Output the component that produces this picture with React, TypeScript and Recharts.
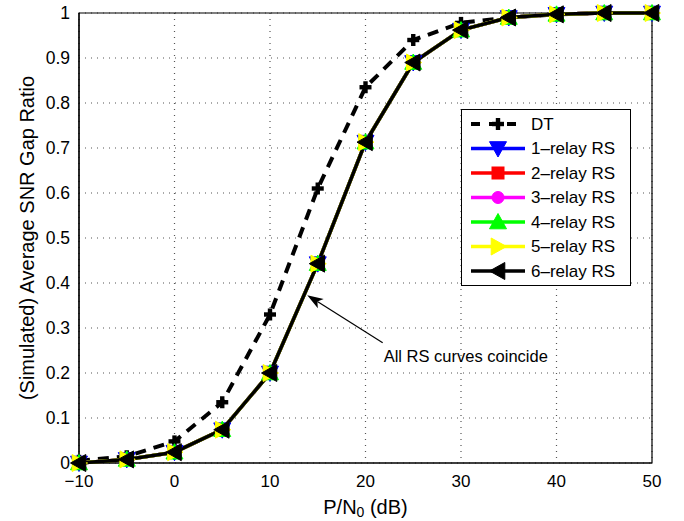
import React from 'react';
import { LineChart, Line, XAxis, YAxis, CartesianGrid, ReferenceLine, ReferenceArea } from 'recharts';

const snrDb = [-10, -5, 0, 5, 10, 15, 20, 25, 30, 35, 40, 45, 50];
const dtRatio = [0.005, 0.015, 0.048, 0.135, 0.33, 0.61, 0.835, 0.94, 0.978, 0.99, 0.997, 1, 1];
const rsRatio = [0.0, 0.008, 0.024, 0.074, 0.2, 0.443, 0.713, 0.89, 0.962, 0.99, 0.997, 1, 1];
const xTicks = [-10, 0, 10, 20, 30, 40, 50];
const yTicks = [0, 0.1, 0.2, 0.3, 0.4, 0.5, 0.6, 0.7, 0.8, 0.9, 1];
const dtName = 'DT';
const rsNames = ['1–relay RS', '2–relay RS', '3–relay RS', '4–relay RS', '5–relay RS', '6–relay RS'];
const rsColors = ['#0000ff', '#ff0000', '#ff00ff', '#00ff00', '#ffff00', '#000000'];
const rsMarkers = ['down', 'square', 'circle', 'up', 'right', 'left'];
const annotationText = 'All RS curves coincide';
const arrowTail = { x: 21.8, y: 0.267 };
const arrowHead = { x: 13.9, y: 0.373 };

const data = snrDb.map((x, i) => ({ x, dt: dtRatio[i], rs: rsRatio[i] }));

const FONT = '"Liberation Sans", Arial, Helvetica, sans-serif';

function drawMarker(kind: string, cx: number, cy: number, color: string, key?: string) {
  const s = 8.5;
  switch (kind) {
    case 'down':
      return <polygon key={key} points={`${cx - s},${cy - s * 0.8} ${cx + s},${cy - s * 0.8} ${cx},${cy + s}`} fill={color} stroke={color} strokeWidth={1} />;
    case 'up':
      return <polygon key={key} points={`${cx - s},${cy + s * 0.8} ${cx + s},${cy + s * 0.8} ${cx},${cy - s}`} fill={color} stroke={color} strokeWidth={1} />;
    case 'right':
      return <polygon key={key} points={`${cx - s * 0.8},${cy - s} ${cx - s * 0.8},${cy + s} ${cx + s},${cy}`} fill={color} stroke={color} strokeWidth={1} />;
    case 'left':
      return <polygon key={key} points={`${cx + s * 0.8},${cy - s} ${cx + s * 0.8},${cy + s} ${cx - s},${cy}`} fill={color} stroke={color} strokeWidth={1} />;
    case 'square':
      return <rect key={key} x={cx - 6} y={cy - 6} width={12} height={12} fill={color} stroke={color} strokeWidth={1} />;
    case 'circle':
      return <circle key={key} cx={cx} cy={cy} r={6} fill={color} stroke={color} strokeWidth={1} />;
    case 'plus':
    default:
      return (
        <g key={key}>
          <rect x={cx - 6} y={cy - 2.2} width={12} height={4.4} fill={color} />
          <rect x={cx - 2.2} y={cy - 6} width={4.4} height={12} fill={color} />
        </g>
      );
  }
}

const ArrowShape = (props: any) => {
  const { x1, y1, x2, y2 } = props;
  if ([x1, y1, x2, y2].some((v) => typeof v !== 'number' || isNaN(v))) return <g />;
  const dx = x2 - x1;
  const dy = y2 - y1;
  const len = Math.sqrt(dx * dx + dy * dy);
  const ux = dx / len;
  const uy = dy / len;
  const hl = 16;
  const hw = 5.5;
  const bx = x2 - ux * hl;
  const by = y2 - uy * hl;
  const px = -uy;
  const py = ux;
  return (
    <g>
      <line x1={x1} y1={y1} x2={bx + ux * 4} y2={by + uy * 4} stroke="#000" strokeWidth={1.2} />
      <polygon
        points={`${x2},${y2} ${bx + px * hw},${by + py * hw} ${bx + ux * 4},${by + uy * 4} ${bx - px * hw},${by - py * hw}`}
        fill="#000"
      />
      <text x={x1 + 1} y={y1 + 19} fontFamily={FONT} fontSize={16.5} fill="#000">
        {annotationText}
      </text>
    </g>
  );
};

const YTitle = (props: any) => {
  const vb = props.viewBox || {};
  const cx = vb.x + 8;
  const cy = vb.y + vb.height / 2;
  return (
    <text x={cx} y={cy} transform={`rotate(-90, ${cx}, ${cy})`} textAnchor="middle" dominantBaseline="central" fontFamily={FONT} fontSize={20} fill="#000">
      (Simulated) Average SNR Gap Ratio
    </text>
  );
};

const XTitle = (props: any) => {
  const vb = props.viewBox || {};
  const cx = vb.x + vb.width / 2;
  const cy = vb.y + 44;
  return (
    <text x={cx} y={cy} textAnchor="middle" dominantBaseline="central" fontFamily={FONT} fontSize={20} fill="#000">
      <tspan>P/N</tspan>
      <tspan dy={5} fontSize={14}>0</tspan>
      <tspan dy={-5}> (dB)</tspan>
    </text>
  );
};

const LegendBox = () => {
  const rows = [{ name: dtName, color: '#000', marker: 'plus', dashed: true }].concat(
    rsNames.map((n, i) => ({ name: n, color: rsColors[i], marker: rsMarkers[i], dashed: false }))
  );
  return (
    <div style={{ position: 'absolute', left: 461, top: 109, width: 170, height: 177, border: '1px solid #000', background: '#fff', boxSizing: 'border-box' }}>
      <svg width={168} height={175} style={{ display: 'block' }}>
        {rows.map((r, i) => {
          const y = 14 + i * 24.5;
          return (
            <g key={r.name}>
              <line x1={9} y1={y} x2={63} y2={y} stroke={r.color} strokeWidth={r.dashed ? 4 : 3.5} strokeDasharray={r.dashed ? '9 9' : undefined} />
              {drawMarker(r.marker, 36, y, r.color)}
              <text x={69} y={y} dominantBaseline="central" fontFamily={FONT} fontSize={17} fill="#000">
                {r.name}
              </text>
            </g>
          );
        })}
      </svg>
    </div>
  );
};

export default function App() {
  return (
    <div style={{ position: 'relative', width: 684, height: 521, background: '#fff' }}>
      <style>{'body{margin:0;overflow:hidden;background:#fff}'}</style>
      <LineChart width={684} height={521} data={data} margin={{ top: 13, right: 32, left: 19, bottom: 18 }}>
        <CartesianGrid stroke="#555" strokeDasharray="1 5" strokeWidth={1.2} />
        <XAxis
          dataKey="x"
          type="number"
          domain={[-10, 50]}
          ticks={xTicks}
          height={40}
          tickSize={0}
          tickMargin={12}
          axisLine={{ stroke: '#000', strokeWidth: 1.2 }}
          tickLine={false}
          tick={{ fill: '#000', fontSize: 17, fontFamily: FONT }}
          tickFormatter={(v: number) => (v < 0 ? `−${Math.abs(v)}` : `${v}`)}
          label={{ content: <XTitle /> }}
        />
        <YAxis
          type="number"
          domain={[0, 1]}
          ticks={yTicks}
          width={60}
          tickSize={0}
          tickMargin={9}
          axisLine={{ stroke: '#000', strokeWidth: 1.2 }}
          tickLine={false}
          tick={{ fill: '#000', fontSize: 17.5, fontFamily: FONT }}
          tickFormatter={(v: number) => `${Math.round(v * 10) / 10}`}
          label={{ content: <YTitle /> }}
        />
        <ReferenceArea x1={-10} x2={50} y1={0} y2={1} fill="none" stroke="#000" strokeWidth={1.2} fillOpacity={0} />
        <ReferenceLine
          segment={[arrowTail, arrowHead]}
          shape={ArrowShape}
          ifOverflow="visible"
        />
        <Line
          type="linear"
          dataKey="dt"
          name={dtName}
          stroke="#000"
          strokeWidth={4}
          strokeDasharray="11 8"
          isAnimationActive={false}
          dot={(p: any) => drawMarker('plus', p.cx, p.cy, '#000', `dt-${p.index}`)}
          activeDot={false}
        />
        {rsNames.map((n, i) => (
          <Line
            key={n}
            type="linear"
            dataKey="rs"
            name={n}
            stroke={rsColors[i]}
            strokeWidth={3.5}
            isAnimationActive={false}
            dot={(p: any) => drawMarker(rsMarkers[i], p.cx, p.cy, rsColors[i], `rs${i}-${p.index}`)}
            activeDot={false}
          />
        ))}
      </LineChart>
      <LegendBox />
    </div>
  );
}
